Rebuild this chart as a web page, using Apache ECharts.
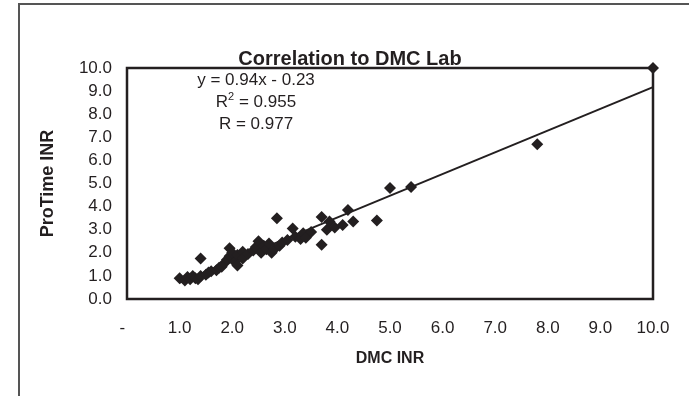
<!DOCTYPE html>
<html>
<head>
<meta charset="utf-8">
<script src="https://cdn.jsdelivr.net/npm/echarts@6/dist/echarts.min.js"></script>
<style>
  html, body { margin: 0; padding: 0; background: #fff; }
  #chart { width: 689px; height: 396px; }
</style>
</head>
<body>
<div id="chart"></div>
<script>
// DMC lab INR (x) vs ProTime INR (y)
const dmcInr = [1.0, 1.1, 1.15, 1.2, 1.25, 1.3, 1.35, 1.4, 1.4, 1.5, 1.55, 1.6, 1.7, 1.75, 1.8, 1.85, 1.9, 1.95, 1.95, 2.0,
  2.05, 2.1, 2.1, 2.2, 2.2, 2.3, 2.4, 2.45, 2.5, 2.55, 2.6, 2.65, 2.7, 2.75, 2.8, 2.85, 2.9, 2.95, 3.05, 3.15,
  3.2, 3.3, 3.35, 3.4, 3.5, 3.7, 3.7, 3.8, 3.85, 3.95, 4.1, 4.2, 4.3, 4.75, 5.0, 5.4, 7.8, 10.0];
const proTimeInr = [0.9, 0.8, 0.95, 0.85, 1.0, 0.9, 0.85, 1.0, 1.75, 1.05, 1.15, 1.2, 1.25, 1.35, 1.4, 1.55, 1.7, 2.2, 1.85, 2.0,
  1.6, 1.9, 1.45, 2.05, 1.75, 1.95, 2.1, 2.25, 2.5, 2.0, 2.3, 2.15, 2.4, 2.0, 2.15, 3.5, 2.3, 2.45, 2.55, 3.05,
  2.7, 2.6, 2.85, 2.65, 2.9, 3.55, 2.35, 3.0, 3.35, 3.1, 3.2, 3.85, 3.35, 3.4, 4.8, 4.85, 6.7, 10.0];

// trendline as printed on the chart
const slope = 0.94;
const intercept = -0.23;
const fitLines = ['y = 0.94x - 0.23', 'R{sup|2} = 0.955', 'R = 0.977'];

const points = dmcInr.map((x, i) => [x, proTimeInr[i]]);
const xMin = Math.min(...dmcInr);
const xMax = Math.max(...dmcInr);
const trend = [[xMin, slope * xMin + intercept], [xMax, slope * xMax + intercept]];

const ink = '#231f20';
const font = 'Liberation Sans, Arial, sans-serif';

const chart = echarts.init(document.getElementById('chart'));
chart.setOption({
  animation: false,
  title: {
    text: 'Correlation to DMC Lab',
    left: 345,
    textAlign: 'center',
    top: 44,
    textStyle: { fontFamily: font, fontSize: 20, fontWeight: 'bold', color: ink },
  },
  grid: {
    left: 127,
    right: 36,
    top: 68,
    bottom: 97,
    show: true,
    borderColor: ink,
    borderWidth: 2.5,
    backgroundColor: 'transparent',
  },
  xAxis: {
    type: 'value',
    min: 0,
    max: 10,
    interval: 1,
    name: 'DMC INR',
    nameLocation: 'middle',
    nameGap: 52,
    nameTextStyle: { fontFamily: font, fontSize: 16, fontWeight: 'bold', color: ink },
    axisLine: { show: false },
    axisTick: { show: false },
    splitLine: { show: false },
    axisLabel: {
      margin: 21,
      fontFamily: font,
      fontSize: 17,
      color: ink,
      formatter: v => (v === 0 ? '-  ' : v.toFixed(1)),
    },
  },
  yAxis: {
    type: 'value',
    min: 0,
    max: 10,
    interval: 1,
    name: 'ProTime INR',
    nameLocation: 'middle',
    nameGap: 70,
    nameTextStyle: { fontFamily: font, fontSize: 18, fontWeight: 'bold', color: ink },
    axisLine: { show: false },
    axisTick: { show: false },
    splitLine: { show: false },
    axisLabel: {
      margin: 15,
      fontFamily: font,
      fontSize: 17,
      color: ink,
      formatter: v => v.toFixed(1),
    },
  },
  graphic: [
    {
      type: 'rect',
      shape: { x: 19, y: 4, width: 700, height: 420 },
      style: { fill: 'none', stroke: '#555', lineWidth: 2 },
      silent: true,
    },
    {
      type: 'text',
      x: 256,
      y: 69,
      style: {
        text: fitLines.join('\n'),
        align: 'center',
        verticalAlign: 'top',
        fill: ink,
        font: '17px ' + font,
        lineHeight: 22,
        rich: { sup: { fontSize: 11, verticalAlign: 'top', lineHeight: 14, fill: ink } },
      },
    },
  ],
  series: [
    {
      type: 'line',
      data: trend,
      showSymbol: false,
      lineStyle: { color: ink, width: 2 },
      z: 1,
    },
    {
      type: 'scatter',
      data: points,
      symbol: 'diamond',
      symbolSize: 12,
      itemStyle: { color: ink, opacity: 1 },
      z: 2,
    },
  ],
});
</script>
</body>
</html>
